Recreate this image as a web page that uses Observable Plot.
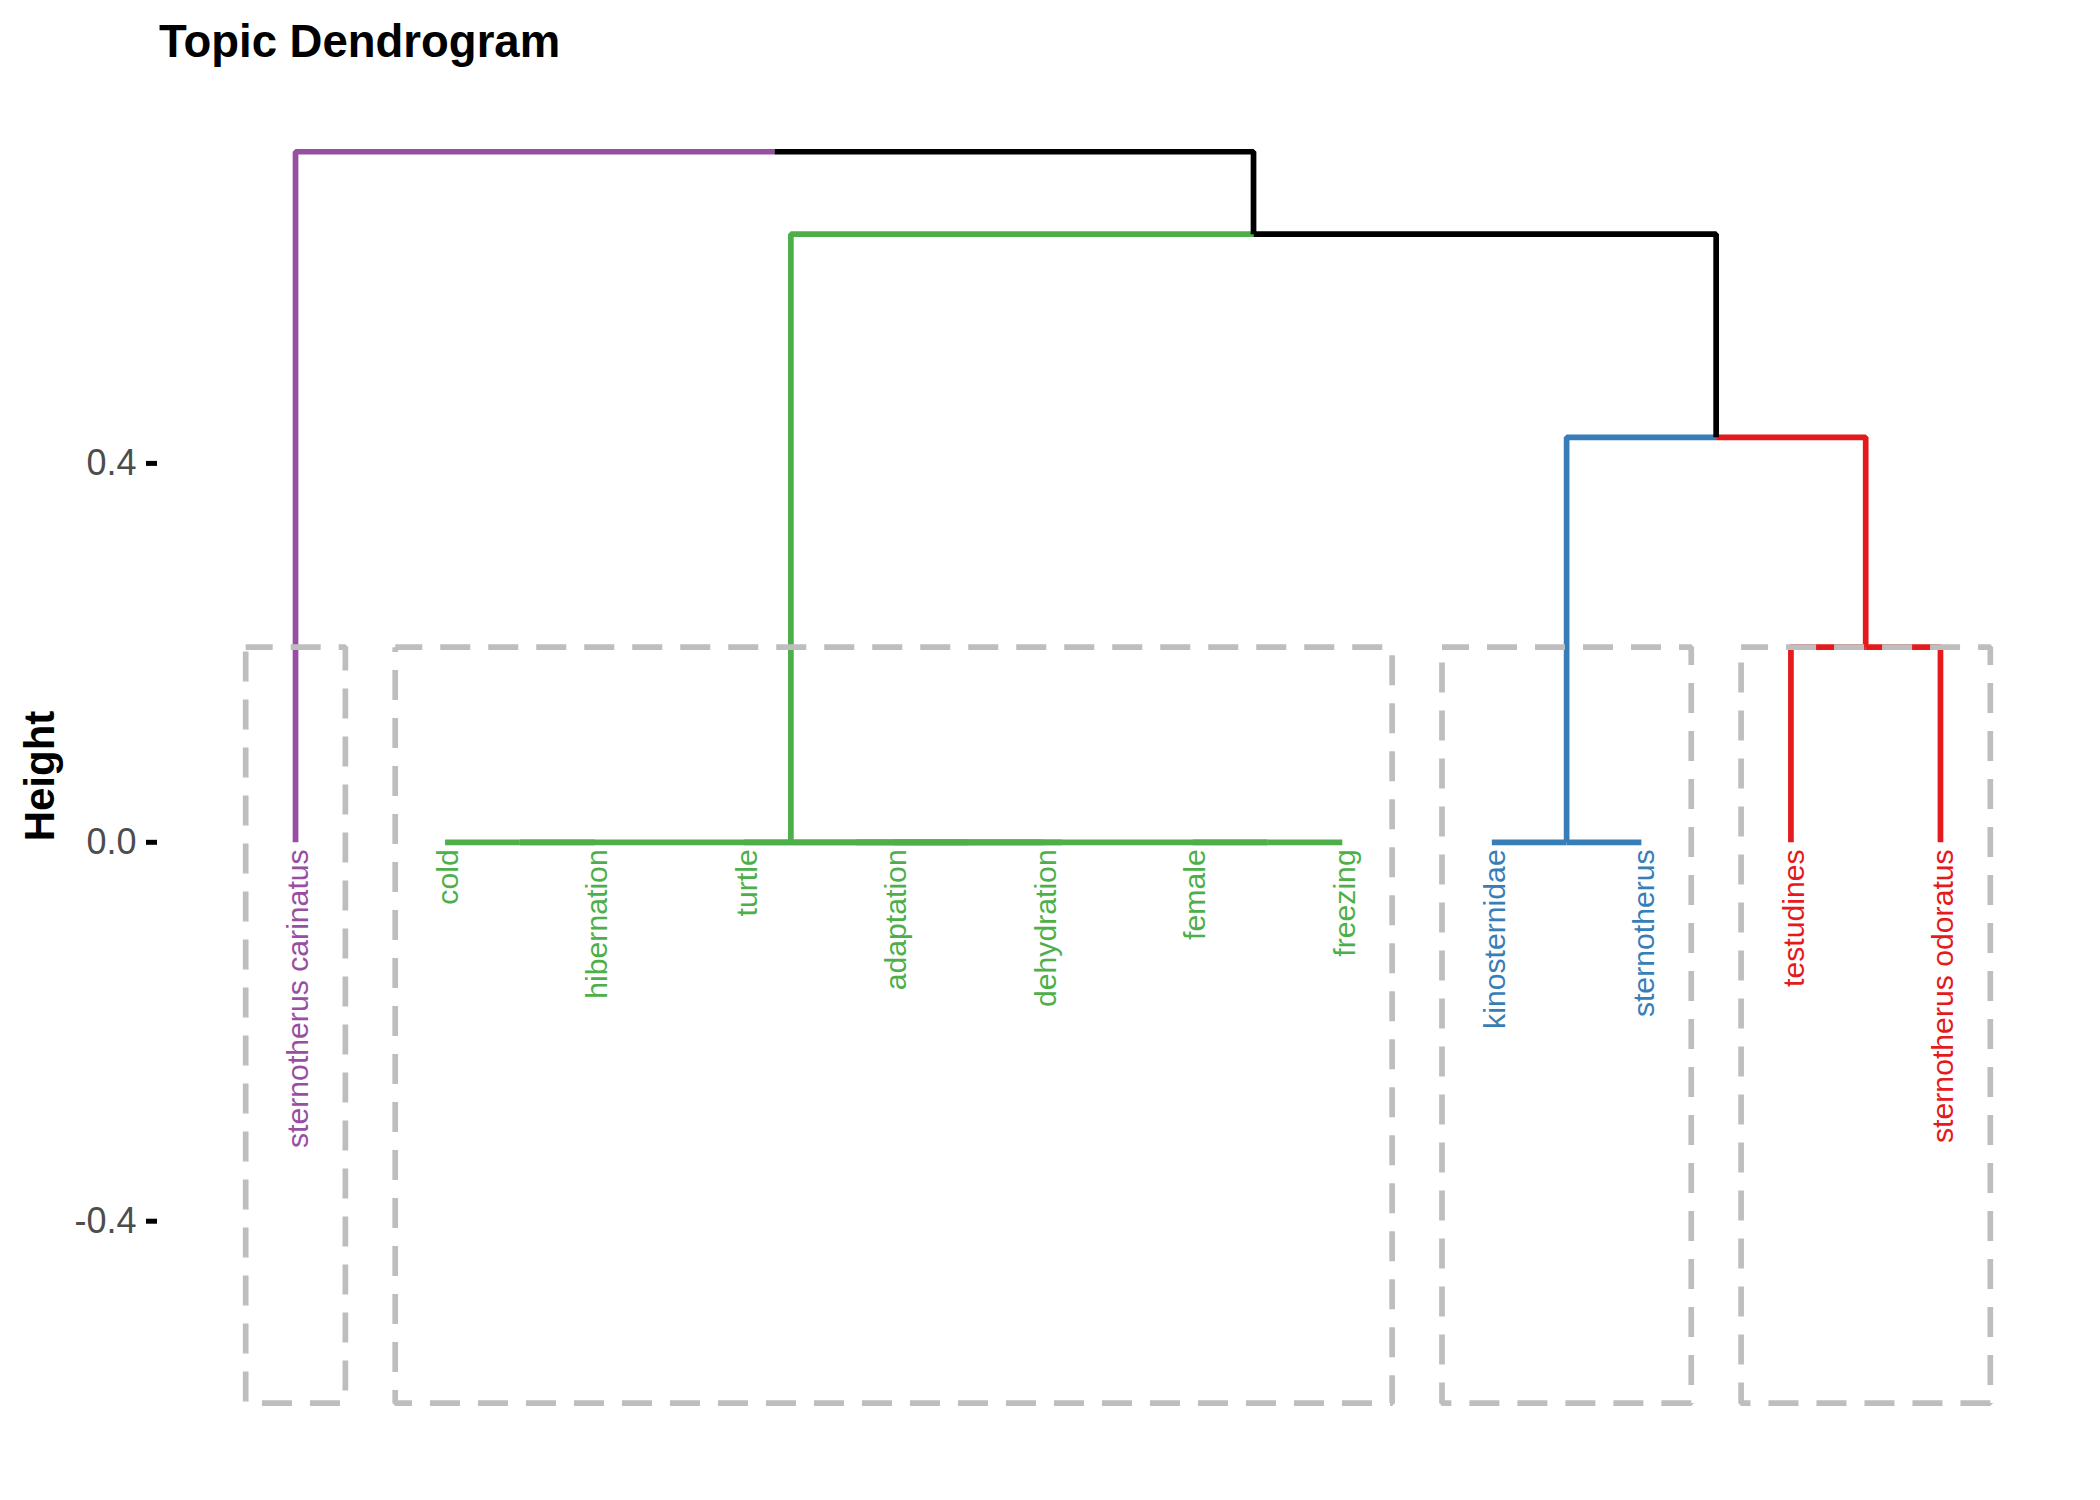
<!DOCTYPE html>
<html><head><meta charset="utf-8">
<script src="https://cdn.jsdelivr.net/npm/d3@7"></script>
<script src="https://cdn.jsdelivr.net/npm/@observablehq/plot@0.6"></script>
<style>
body{margin:0;background:#fff;font-family:"Liberation Sans",Arial,sans-serif;}
#title{height:72px;box-sizing:border-box;padding:18.5px 0 0 159px;font-weight:bold;font-size:45.5px;line-height:45.5px;color:#000;white-space:nowrap;overflow:hidden;}
#chart svg{display:block;}
</style></head><body>
<div id="title">Topic Dendrogram</div>
<div id="chart"></div>
<script>
// leaves in dendrogram order
const leafLabels = ["sternotherus carinatus","cold","hibernation","turtle","adaptation","dehydration","female","freezing","kinosternidae","sternotherus","testudines","sternotherus odoratus"];
const leafCluster = [1,2,2,2,2,2,2,2,3,3,4,4];
const clusterColors = ["#984EA3","#4DAF4A","#377EB8","#E41A1C"];
// hclust-style merges: negative = leaf (1-based), positive = earlier merge row
const mergeLeft   = [-2,-5,-4,-7,3,1,-9,-11,7,6,-1];
const mergeRight  = [-3,-6,2,-8,4,5,-10,-12,8,9,10];
const mergeHeight = [0,0,0,0,0,0,0,0.206,0.4275,0.642,0.729];
const rectTop = 0.206, rectBottom = -0.592;
const yTicks = [-0.4, 0, 0.4];

const pos = [], members = [];
const nodeX = r => r < 0 ? -r : pos[r-1];
const nodeH = r => r < 0 ? 0 : mergeHeight[r-1];
const nodeLeaves = r => r < 0 ? [-r] : members[r-1];
mergeLeft.forEach((l,k) => {
  const r = mergeRight[k];
  pos[k] = (nodeX(l) + nodeX(r)) / 2;
  members[k] = nodeLeaves(l).concat(nodeLeaves(r));
});
const clusterOf = r => {
  const s = new Set(nodeLeaves(r).map(i => leafCluster[i-1]));
  return s.size === 1 ? [...s][0] : null;
};
const branchPts = [];
let bid = 0;
mergeLeft.forEach((l,k) => {
  const H = mergeHeight[k], P = pos[k];
  for (const c of [l, mergeRight[k]]) {
    const cl = clusterOf(c);
    const color = cl ? clusterColors[cl-1] : "#000000";
    const xc = nodeX(c), hc = nodeH(c);
    branchPts.push({id: bid, x: xc, y: hc, color});
    branchPts.push({id: bid, x: xc, y: H, color});
    branchPts.push({id: bid, x: P, y: H, color});
    bid++;
  }
});
const leafData = leafLabels.map((label,i) => ({i: i+1, label, color: clusterColors[leafCluster[i]-1]}));
const rectPts = [];
clusterColors.forEach((col,ci) => {
  const idx = leafCluster.map((c,i) => c === ci+1 ? i+1 : null).filter(v => v !== null);
  const a = Math.min(...idx) - 1/3, b = Math.max(...idx) + 1/3;
  [[a,rectTop],[b,rectTop],[b,rectBottom],[a,rectBottom],[a,rectTop]].forEach(([x,y]) => rectPts.push({c: ci, x, y}));
});

const chart = Plot.plot({
  width: 2100, height: 1415,
  marginLeft: 157, marginRight: 22, marginTop: 12, marginBottom: 20,
  style: {fontFamily: "'Liberation Sans', Arial, sans-serif", background: "#fff"},
  x: {domain: [0.077, 12.923], axis: null},
  y: {domain: [-0.66, 0.8], axis: null},
  color: {type: "identity"},
  marks: [
    Plot.axisY(yTicks, {tickSize: 11, tickPadding: 10, stroke: "#000", fill: "#4D4D4D", strokeWidth: 5, fontSize: 36, tickFormat: d => d.toFixed(1), label: null}),
    Plot.text(["Height"], {frameAnchor: "left", textAnchor: "middle", dx: -117, rotate: -90, fontSize: 42, fontWeight: "bold", fill: "#000"}),
    Plot.line(branchPts, {x: "x", y: "y", z: "id", stroke: "color", strokeWidth: 5.7, strokeLinejoin: "miter", strokeLinecap: "butt"}),
    Plot.text(leafData, {x: "i", y: () => 0, text: "label", fill: "color", rotate: -90, textAnchor: "end", dy: 7, dx: 3, fontSize: 30.2}),
    Plot.line(rectPts, {x: "x", y: "y", z: "c", stroke: "#BEBEBE", strokeWidth: 5.7, strokeDasharray: "30,18", strokeDashoffset: 3, strokeLinejoin: "miter", strokeLinecap: "butt"})
  ]
});
document.getElementById("chart").append(chart);
</script>
</body></html>
